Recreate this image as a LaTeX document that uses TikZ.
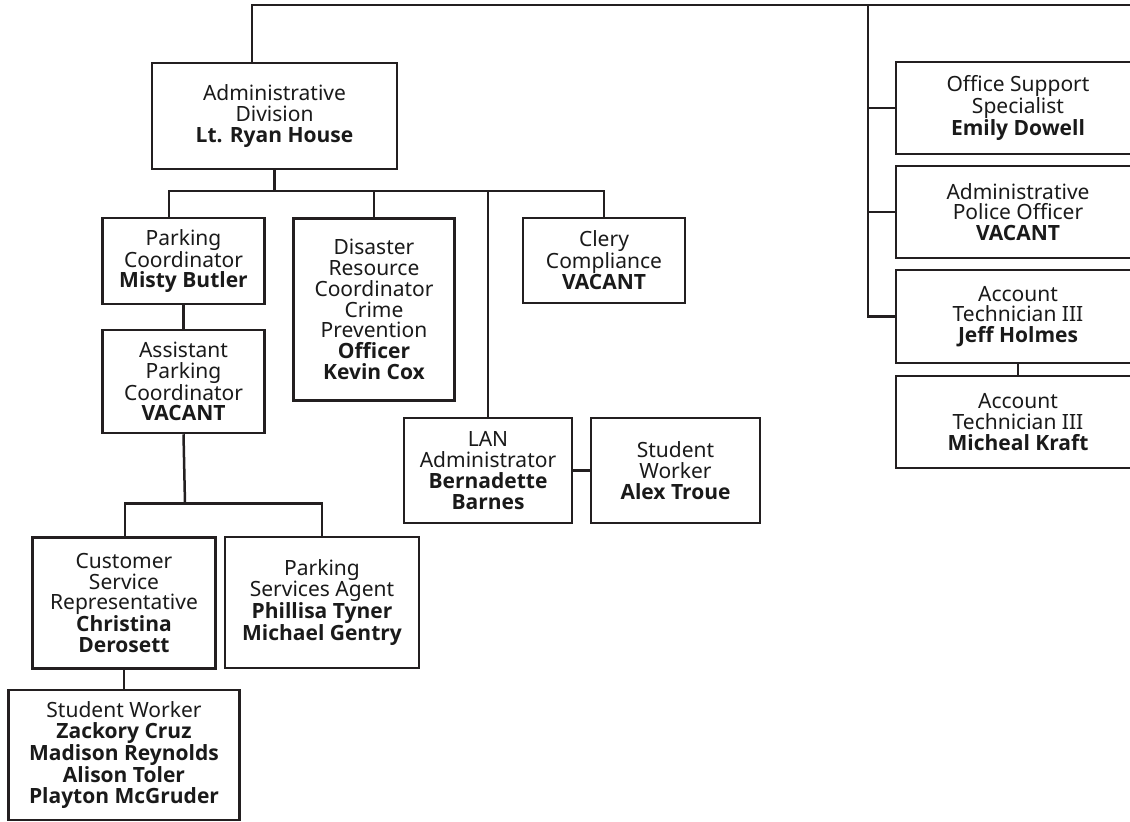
\documentclass[tikz,border=0pt]{standalone}
\usepackage{fontspec}
\setmainfont{Noto Sans}
\newfontfamily\osans{Open Sans}
\newcommand\bname[1]{{\osans\bfseries #1}}
\definecolor{ln}{HTML}{231F20}
\definecolor{tx}{HTML}{1A1A1A}
\begin{document}
\begin{tikzpicture}[x=1pt,y=-1pt,
  box/.style={draw=ln, line width=2.5pt, align=center, inner sep=0pt,
    text=tx, font=\fontsize{21}{20.8}\selectfont},
  conn/.style={draw=ln, line width=2.5pt}]
\clip (0,0) rectangle (1130,822);
\fill[white] (0,0) rectangle (1130,822);
% nodes
\node[box, minimum width=245, minimum height=106] (admin) at (274.5,116)
  {Administrative\\Division\\\bname{Lt. Ryan House}};
\node[box, minimum width=162, minimum height=86] (pc) at (183.5,261)
  {Parking\\Coordinator\\\bname{Misty Butler}};
\node[box, minimum width=161, minimum height=182] (dis) at (374,309.5)
  {Disaster\\Resource\\Coordinator\\Crime\\Prevention\\\bname{Officer}\\\bname{Kevin Cox}};
\node[box, minimum width=162, minimum height=85] (clery) at (604,260.5)
  {Clery\\Compliance\\\bname{VACANT}};
\node[box, minimum width=162, minimum height=103] (apc) at (183.5,381.5)
  {Assistant\\Parking\\Coordinator\\\bname{VACANT}};
\node[box, minimum width=183, minimum height=131] (csr) at (124,603)
  {Customer\\Service\\Representative\\\bname{Christina}\\\bname{Derosett}};
\node[box, minimum width=194, minimum height=131] (psa) at (322,602.5)
  {Parking\\Services Agent\\\bname{Phillisa Tyner}\\\bname{Michael Gentry}};
\node[box, minimum width=231, minimum height=130] (sw) at (124,755)
  {Student Worker\\\bname{Zackory Cruz}\\\bname{Madison Reynolds}\\\bname{Alison Toler}\\\bname{Playton McGruder}};
\node[box, minimum width=168, minimum height=105] (lan) at (488,470.5)
  {LAN\\Administrator\\\bname{Bernadette}\\\bname{Barnes}};
\node[box, minimum width=169, minimum height=105] (alex) at (675.5,470.5)
  {Student\\Worker\\\bname{Alex Troue}};
\node[box, minimum width=244, minimum height=92] (oss) at (1018,108)
  {Office Support\\Specialist\\\bname{Emily Dowell}};
\node[box, minimum width=244, minimum height=92] (apo) at (1018,212)
  {Administrative\\Police Officer\\\bname{VACANT}};
\node[box, minimum width=244, minimum height=93] (jeff) at (1018,316.5)
  {Account\\Technician III\\\bname{Jeff Holmes}};
\node[box, minimum width=244, minimum height=92] (kraft) at (1018,422)
  {Account\\Technician III\\\bname{Micheal Kraft}};
% coordinates
\coordinate (topR) at (1140,5);
\coordinate (sp) at (868,5);
\coordinate (bus) at (274.5,191);
\coordinate (bus2) at (185,503.5);
% connectors
\draw[conn] ([xshift=-22.5]admin.north) |- (topR);
\draw[conn] (sp) |- (jeff.west);
\draw[conn] (oss.west) -- (oss.west -| sp);
\draw[conn] (apo.west) -- (apo.west -| sp);
\draw[conn] (admin.south) -- (bus);
\draw[conn] ([xshift=-14.5]pc.north) |- (bus) -| (clery.north);
\draw[conn] (dis.north) -- (dis.north |- bus);
\draw[conn] (lan.north) -- (lan.north |- bus);
\draw[conn] (pc.south) -- (apc.north);
\draw[conn] (apc.south) -- (bus2);
\draw[conn] ([xshift=1]csr.north) |- (bus2) -| (psa.north);
\draw[conn] (csr.south) -- (sw.north);
\draw[conn] (lan.east) -- (alex.west);
\draw[conn] (jeff.south) -- (kraft.north);
\end{tikzpicture}
\end{document}
